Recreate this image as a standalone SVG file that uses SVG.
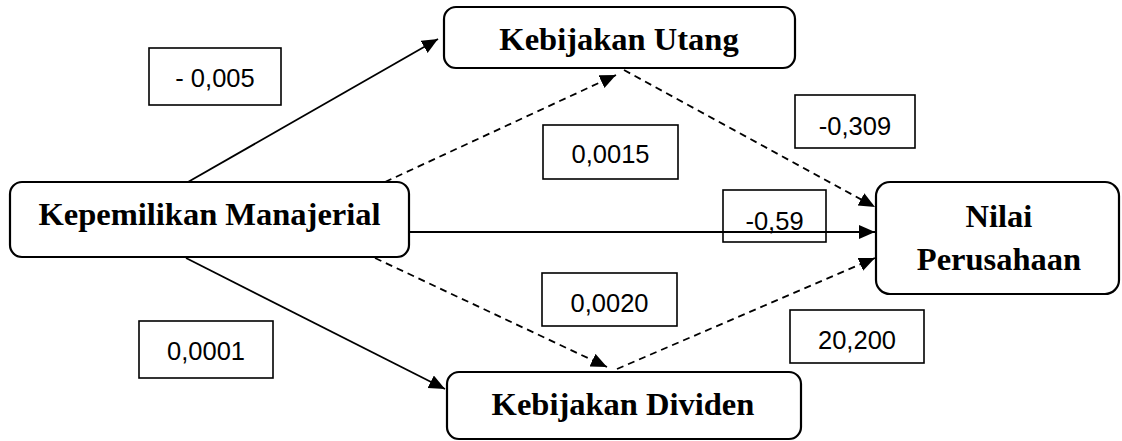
<svg xmlns="http://www.w3.org/2000/svg" width="1122" height="441" viewBox="0 0 1122 441">
<style>
.node{fill:#fff;stroke:#000;stroke-width:2.2}
.nt{font-family:"Liberation Serif","Times New Roman",serif;font-weight:bold;font-size:32.5px;text-anchor:middle;fill:#000}
.lb{fill:#fff;stroke:#000;stroke-width:1.6}
.lt{font-family:"Liberation Sans",Arial,sans-serif;font-size:25.5px;text-anchor:middle;fill:#000}
.c{stroke:#000;stroke-width:1.8;fill:none;marker-end:url(#ah)}
.d{stroke-dasharray:7,5}
</style>
<defs>
<marker id="ah" markerUnits="userSpaceOnUse" markerWidth="18" markerHeight="15" refX="16" refY="7" orient="auto">
<path d="M0,0 L16,7 L0,14 z" fill="#000"/>
</marker>
</defs>
<rect width="1122" height="441" fill="#fff"/>
<g id="connectors">
<line class="c" x1="188" y1="182" x2="438" y2="39"/>
<line class="c d" x1="385" y1="182" x2="616" y2="75"/>
<line class="c d" x1="624" y1="70" x2="875" y2="207"/>
<line class="c" x1="410" y1="232" x2="875" y2="232"/>
<line class="c d" x1="617" y1="369" x2="875" y2="258"/>
<line class="c d" x1="375" y1="258" x2="607" y2="367"/>
<line class="c" x1="186" y1="258" x2="445" y2="389"/>
</g>
<g id="node-kepemilikan">
<rect class="node" x="10" y="182" width="399" height="75" rx="12"/>
<text class="nt" x="209.5" y="225">Kepemilikan Manajerial</text>
</g>
<g id="node-utang">
<rect class="node" x="444" y="7" width="351" height="61" rx="12"/>
<text class="nt" x="619" y="50">Kebijakan Utang</text>
</g>
<g id="node-dividen">
<rect class="node" x="447" y="372" width="354" height="67" rx="12"/>
<text class="nt" x="623" y="415">Kebijakan Dividen</text>
</g>
<g id="node-nilai">
<rect class="node" x="876" y="182" width="243" height="112" rx="14"/>
<text class="nt" x="999" y="227">Nilai</text>
<text class="nt" x="999" y="270">Perusahaan</text>
</g>
<g id="label-1">
<rect class="lb" x="149" y="48" width="132" height="57"/>
<text class="lt" x="215" y="87">- 0,005</text>
</g>
<g id="label-2">
<rect class="lb" x="543" y="125" width="135" height="54"/>
<text class="lt" x="610.5" y="163">0,0015</text>
</g>
<g id="label-3">
<rect class="lb" x="795" y="95" width="120" height="53"/>
<text class="lt" x="855" y="135">-0,309</text>
</g>
<g id="label-4">
<rect class="lb" x="723" y="190" width="103" height="52" style="fill:none"/>
<text class="lt" x="774.5" y="230">-0,59</text>
</g>
<g id="label-5">
<rect class="lb" x="542" y="273" width="135" height="53"/>
<text class="lt" x="609.5" y="312">0,0020</text>
</g>
<g id="label-6">
<rect class="lb" x="139" y="321" width="134" height="57"/>
<text class="lt" x="206" y="360">0,0001</text>
</g>
<g id="label-7">
<rect class="lb" x="790" y="310" width="134" height="53"/>
<text class="lt" x="857" y="349">20,200</text>
</g>
</svg>
